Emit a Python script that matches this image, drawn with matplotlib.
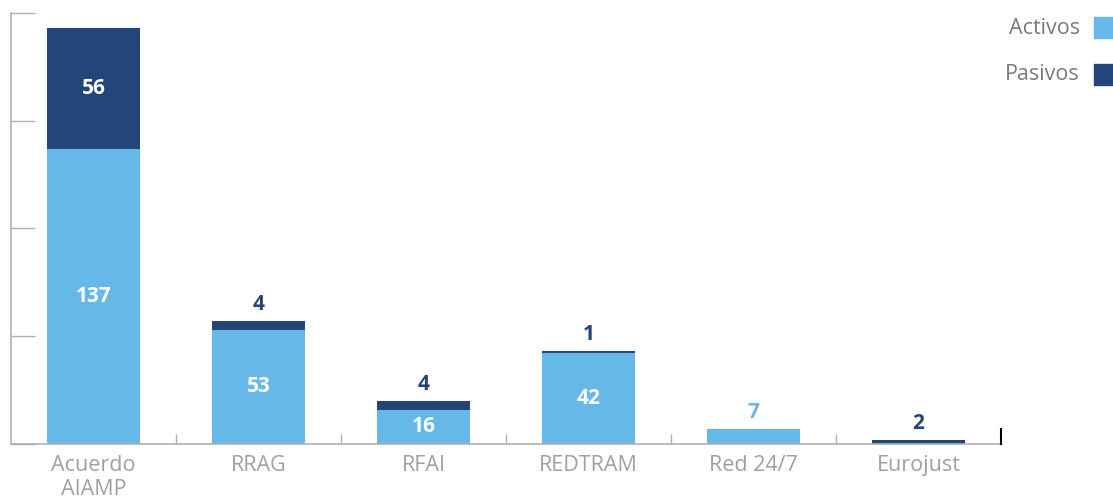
import matplotlib
matplotlib.use("Agg")
import matplotlib.pyplot as plt
import numpy as np
from matplotlib.patches import Rectangle

categories = ["Acuerdo\nAIAMP", "RRAG", "RFAI", "REDTRAM", "Red 24/7", "Eurojust"]
activos = [137, 53, 16, 42, 7, 0]
pasivos = [56, 4, 4, 1, 0, 2]
series_names = ["Activos", "Pasivos"]
yticks = [0, 50, 100, 150, 200]

c_act = "#65B8E8"
c_pas = "#24457A"
grey = "#A0A0A0"
plt.rcParams['font.family'] = ['Open Sans', 'DejaVu Sans']

W, H = 1113, 499
fig = plt.figure(figsize=(W / 100, H / 100), dpi=100)
ax = fig.add_axes([11 / W, (H - 444) / H, (1001 - 11) / W, (444 - 13) / H])

x = np.arange(len(categories))
bw = 0.565
ax.bar(x, activos, bw, color=c_act, label=series_names[0], zorder=2)
ax.bar(x, pasivos, bw, bottom=activos, color=c_pas, label=series_names[1], zorder=2)

ax.set_xlim(-0.5, len(categories) - 0.5)
ax.set_ylim(0, 200)

lab_fs = 15
for i, (a, p) in enumerate(zip(activos, pasivos)):
    total = a + p
    big_a = a >= 15
    big_p = p >= 15
    if a > 0 and big_a:
        ax.text(i, a / 2, str(a), ha="center", va="center", color="white",
                fontsize=lab_fs, fontweight="bold", zorder=3)
    if p > 0 and big_p:
        ax.text(i, a + p / 2, str(p), ha="center", va="center", color="white",
                fontsize=lab_fs, fontweight="bold", zorder=3)
    if p > 0 and not big_p:
        ax.annotate(str(p), (i, total), xytext=(0, 12), textcoords="offset points",
                    ha="center", va="center", color=c_pas, fontsize=lab_fs,
                    fontweight="bold")
    elif p == 0 and a > 0 and not big_a:
        ax.annotate(str(a), (i, total), xytext=(0, 12), textcoords="offset points",
                    ha="center", va="center", color=c_act, fontsize=lab_fs,
                    fontweight="bold")

for s in ["top", "right"]:
    ax.spines[s].set_visible(False)
ax.spines["left"].set_color("#B0B0B0")
ax.spines["bottom"].set_color("#B0B0B0")
ax.spines["left"].set_linewidth(1.2)
ax.spines["bottom"].set_linewidth(1.2)

ax.set_yticks(yticks)
ax.set_yticklabels([])
ax.tick_params(axis="y", direction="in", length=17, width=1, color="#B0B0B0")

ax.set_xticks(x)
ax.set_xticklabels(categories, fontsize=15.5, color=grey, linespacing=1.2)
ax.tick_params(axis="x", which="major", length=0, pad=8)
ax.set_xticks(np.arange(0.5, len(categories) - 1, 1), minor=True)
ax.tick_params(axis="x", which="minor", direction="in", length=7, width=1, color="#B0B0B0")
ax.plot([len(categories) - 0.5, len(categories) - 0.5], [0, 7], color="black",
        lw=1.5, clip_on=False, zorder=4)

for name, col, yc in [(series_names[0], c_act, 28), (series_names[1], c_pas, 75)]:
    fig.text(1080 / W, 1 - yc / H, name, ha="right", va="center",
             fontsize=15.5, color="#7A7A7A")
    fig.add_artist(Rectangle((1094 / W, 1 - (yc + 10) / H), 19 / W, 21 / H,
                             transform=fig.transFigure, color=col))

fig.savefig("out.png", dpi=100)
